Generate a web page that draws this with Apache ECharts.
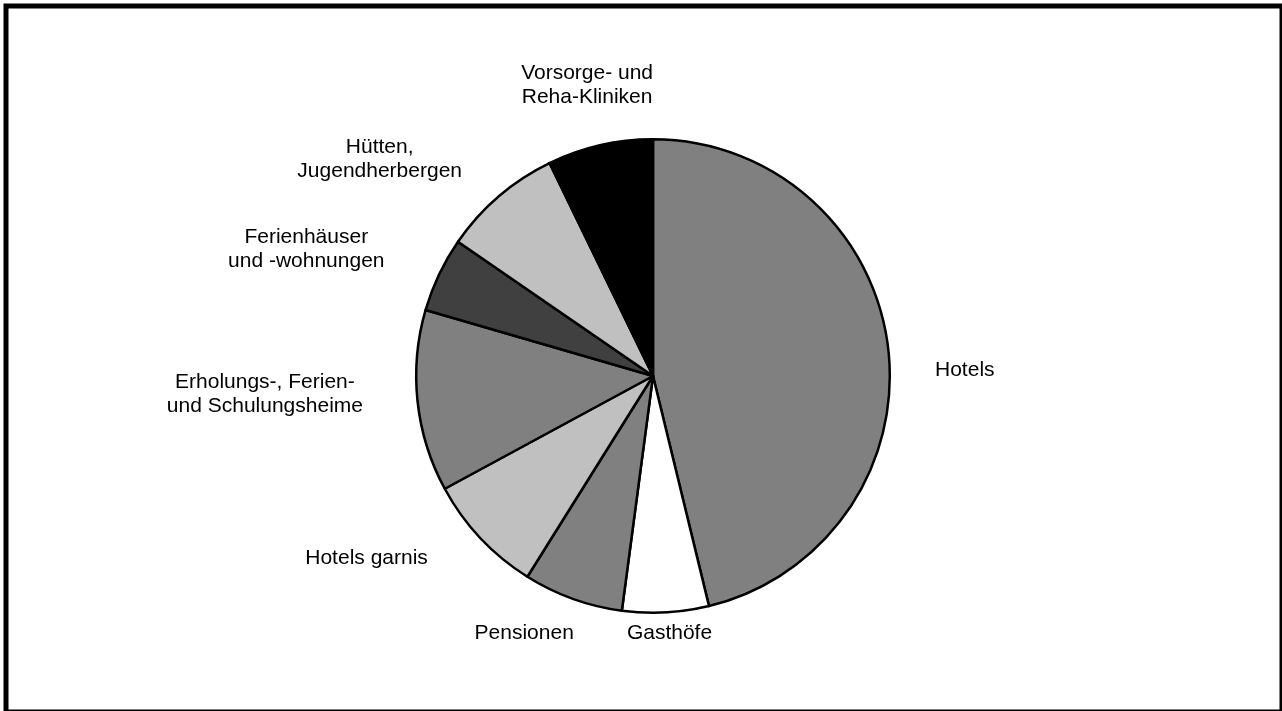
<!DOCTYPE html>
<html>
<head>
<meta charset="utf-8">
<script src="https://cdn.jsdelivr.net/npm/echarts@6/dist/echarts.min.js"></script>
<style>
html,body{margin:0;padding:0;background:#fff;}
#chart{width:1282px;height:711px;}
</style>
</head>
<body>
<div id="chart"></div>
<script>
// ---- data ----
const categories = [
  'Hotels',
  'Gasthöfe',
  'Pensionen',
  'Hotels garnis',
  'Erholungs-, Ferien-\nund Schulungsheime',
  'Ferienhäuser\nund -wohnungen',
  'Hütten,\nJugendherbergen',
  'Vorsorge- und\nReha-Kliniken'
];
const shares = [46.2, 5.9, 6.8, 8.2, 12.4, 5.1, 8.2, 7.2];

// ---- styles ----
const sliceColors = ['#808080', '#ffffff', '#808080', '#c0c0c0', '#808080', '#404040', '#c0c0c0', '#000000'];
const labelNudges = [[36, 25], [1, -2], [-28, 13], [-61, 4], [-44, -11], [-52, -10], [-58, -11], [4.5, -26]];
const pieCenter = [653, 376];
const pieRadius = 236.8;
const labelGap = 10;

const total = shares.reduce((a, b) => a + b, 0);
const cumStart = [];
shares.reduce((acc, v, i) => { cumStart[i] = acc; return acc + v; }, 0);

const chart = echarts.init(document.getElementById('chart'), null, {renderer: 'canvas'});
chart.setOption({
  animation: false,
  backgroundColor: '#ffffff',
  graphic: [{
    type: 'rect',
    shape: {x: 6, y: 6, width: 1276, height: 706},
    style: {fill: 'none', stroke: '#000', lineWidth: 5},
    silent: true,
    z: 10
  }],
  series: [{
    type: 'pie',
    center: pieCenter,
    radius: pieRadius,
    startAngle: 90,
    clockwise: true,
    avoidLabelOverlap: false,
    emphasis: {disabled: true},
    itemStyle: {borderColor: '#000', borderWidth: 2.5},
    label: {
      show: true,
      position: 'outside',
      formatter: '{b}',
      fontFamily: 'Liberation Sans, Arial, sans-serif',
      fontSize: 21,
      lineHeight: 24,
      color: '#000'
    },
    labelLine: {show: false},
    labelLayout: function (params) {
      const i = params.dataIndex;
      const mid = (cumStart[i] + shares[i] / 2) / total * 2 * Math.PI;
      const dx = Math.sin(mid), dy = -Math.cos(mid);
      const w = params.labelRect.width, h = params.labelRect.height;
      const d = 238 + labelGap;
      return {
        x: pieCenter[0] + dx * d + dx * w / 2 + labelNudges[i][0],
        y: pieCenter[1] + dy * d + dy * h / 2 + labelNudges[i][1],
        align: 'center',
        verticalAlign: 'middle'
      };
    },
    data: categories.map((name, i) => ({
      name: name,
      value: shares[i],
      itemStyle: {color: sliceColors[i]}
    }))
  }]
});
</script>
</body>
</html>
